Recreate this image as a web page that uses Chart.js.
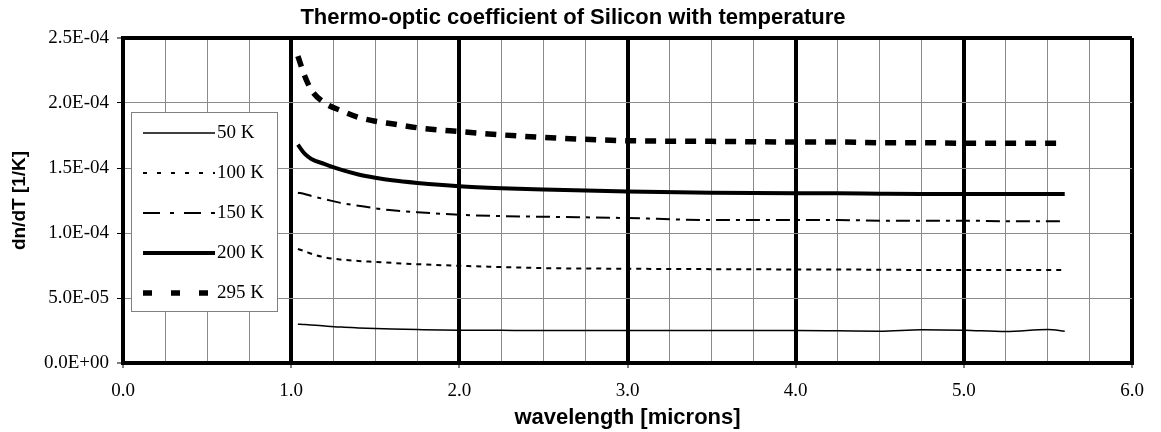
<!DOCTYPE html>
<html>
<head>
<meta charset="utf-8">
<title>Thermo-optic coefficient of Silicon</title>
<script src="https://cdn.jsdelivr.net/npm/chart.js@4.4.1/dist/chart.umd.min.js"></script>
<style>
  html, body { margin: 0; padding: 0; background: #fff; }
  #wrap { width: 1161px; height: 432px; }
</style>
</head>
<body>
<div id="wrap"><canvas id="tocChart" width="1161" height="432"></canvas></div>
<script>
// wavelength in microns; dn/dT values below are in units of 1e-5 per K
const wavelength = [1.04, 1.08, 1.12, 1.2, 1.3, 1.4, 1.5, 1.6, 1.75, 2.0, 2.25, 2.5, 3.0, 3.5, 4.0, 4.25, 4.5, 4.75, 5.0, 5.25, 5.5, 5.6];
const dndt50K  = [2.99, 2.96, 2.92, 2.85, 2.76, 2.70, 2.65, 2.61, 2.57, 2.52, 2.51, 2.50, 2.50, 2.50, 2.50, 2.48, 2.45, 2.56, 2.52, 2.42, 2.58, 2.45];
const dndt100K = [8.77, 8.60, 8.40, 8.13, 7.95, 7.85, 7.78, 7.70, 7.60, 7.48, 7.38, 7.30, 7.25, 7.22, 7.20, 7.20, 7.17, 7.16, 7.15, 7.15, 7.15, 7.15];
const dndt150K = [13.1, 13.0, 12.85, 12.6, 12.3, 12.1, 11.9, 11.75, 11.6, 11.4, 11.3, 11.25, 11.15, 11.0, 11.0, 11.0, 10.95, 10.95, 10.95, 10.9, 10.9, 10.9];
const dndt200K = [16.8, 16.1, 15.7, 15.3, 14.85, 14.5, 14.25, 14.05, 13.85, 13.6, 13.45, 13.35, 13.2, 13.1, 13.05, 13.05, 13.02, 13.0, 13.0, 13.0, 13.0, 13.0];
const dndt295K = [23.6, 22.1, 21.0, 20.0, 19.4, 18.9, 18.6, 18.4, 18.1, 17.8, 17.55, 17.35, 17.1, 17.05, 17.0, 17.0, 16.95, 16.95, 16.9, 16.9, 16.9, 16.9];
const seriesLabels = ['50 K', '100 K', '150 K', '200 K', '295 K'];
const SCALE = 1e-5;

// stroke styles for each temperature, in the chart and in the legend box
const lineStyles = [
  { width: 1.5, dash: [],              legendDash: [] },
  { width: 2,   dash: [5, 5],          legendDash: [4, 10] },
  { width: 2,   dash: [14, 6, 4, 6],   legendDash: [17, 10, 4, 10] },
  { width: 4,   dash: [],              legendDash: [] },
  { width: 5.5, dash: [11, 9],         legendDash: [9, 19] }
];

const allSeries = [dndt50K, dndt100K, dndt150K, dndt200K, dndt295K];

const datasets = allSeries.map((vals, i) => ({
  label: seriesLabels[i],
  data: wavelength.map((w, j) => ({ x: w, y: vals[j] * SCALE })),
  borderColor: '#000',
  borderWidth: lineStyles[i].width,
  borderDash: lineStyles[i].dash,
  borderCapStyle: 'butt',
  pointRadius: 0,
  fill: false,
  cubicInterpolationMode: 'monotone'
}));

// 2.5E-04 style labels
function sci(v) {
  if (Math.abs(v) < 1e-12) return '0.0E+00';
  let exp = Math.floor(Math.log10(v));
  let mant = v / Math.pow(10, exp);
  if (mant >= 9.95) { mant /= 10; exp += 1; }
  const sign = exp < 0 ? '-' : '+';
  return mant.toFixed(1) + 'E' + sign + String(Math.abs(exp)).padStart(2, '0');
}

const serifFamily = '"Liberation Serif", "Times New Roman", serif';

// legend box drawn inside the plot area
const boxLegend = {
  id: 'boxLegend',
  afterDatasetsDraw(chart) {
    const ctx = chart.ctx;
    const left = chart.chartArea.left + 8;
    const top = chart.chartArea.top + 74;
    ctx.save();
    ctx.fillStyle = '#fff';
    ctx.fillRect(left, top, 146, 199);
    ctx.strokeStyle = '#808080';
    ctx.lineWidth = 1;
    ctx.strokeRect(left + 0.5, top + 0.5, 146, 199);
    chart.data.datasets.forEach((ds, i) => {
      const rowY = top + 21 + i * 40;
      ctx.beginPath();
      ctx.setLineDash(lineStyles[i].legendDash);
      ctx.lineCap = 'butt';
      ctx.lineWidth = ds.borderWidth;
      ctx.strokeStyle = '#000';
      ctx.moveTo(left + 12, rowY);
      ctx.lineTo(left + 84, rowY);
      ctx.stroke();
      ctx.setLineDash([]);
      ctx.fillStyle = '#000';
      ctx.font = '19px ' + serifFamily;
      ctx.textAlign = 'left';
      ctx.textBaseline = 'middle';
      ctx.fillText(ds.label, left + 86, rowY);
    });
    ctx.restore();
  }
};

const tickFont = { family: serifFamily, size: 19 };
const titleFont = { family: '"Liberation Sans", Arial, sans-serif', size: 22, weight: 'bold' };

new Chart(document.getElementById('tocChart'), {
  type: 'line',
  data: { datasets },
  plugins: [boxLegend],
  options: {
    responsive: false,
    devicePixelRatio: 1,
    animation: false,
    layout: { padding: { left: 14, right: 29, top: 0, bottom: 0 } },
    plugins: {
      legend: { display: false },
      tooltip: { enabled: false },
      title: {
        display: true,
        text: 'Thermo-optic coefficient of Silicon with temperature',
        color: '#000',
        font: titleFont,
        padding: { top: 5, bottom: 6.6 }
      }
    },
    scales: {
      x: {
        type: 'linear',
        min: 0,
        max: 6,
        afterFit: s => { s.height = 69; },
        border: { display: true, color: '#000', width: 4 },
        grid: {
          color: c => Number.isInteger(c.tick.value) ? '#000' : '#8c8c8c',
          lineWidth: c => Number.isInteger(c.tick.value) ? 4 : 1,
          tickColor: c => Number.isInteger(c.tick.value) ? '#000' : 'rgba(0,0,0,0)',
          tickWidth: 1,
          tickLength: 5
        },
        ticks: {
          stepSize: 0.25,
          autoSkip: false,
          maxRotation: 0,
          padding: 12,
          color: '#000',
          font: tickFont,
          callback: v => Number.isInteger(v) ? v.toFixed(1) : ''
        },
        title: {
          display: true,
          text: 'wavelength [microns]',
          color: '#000',
          font: titleFont,
          padding: { top: 0, bottom: 1 }
        }
      },
      y: {
        min: 0,
        max: 2.5e-4,
        afterFit: s => { s.width = 109; },
        border: { display: true, color: '#000', width: 4 },
        grid: {
          color: c => (c.index === 0 || c.index === 5) ? '#000' : '#8c8c8c',
          lineWidth: c => (c.index === 0 || c.index === 5) ? 4 : 1,
          tickColor: '#000',
          tickWidth: 1,
          tickLength: 6
        },
        ticks: {
          stepSize: 5e-5,
          padding: 8,
          color: '#000',
          font: tickFont,
          callback: v => sci(v)
        },
        title: {
          display: true,
          text: 'dn/dT [1/K]',
          color: '#000',
          font: { family: '"Liberation Sans", Arial, sans-serif', size: 19, weight: 'bold' },
          padding: { top: -5.4, bottom: 0 }
        }
      }
    }
  }
});
</script>
</body>
</html>
